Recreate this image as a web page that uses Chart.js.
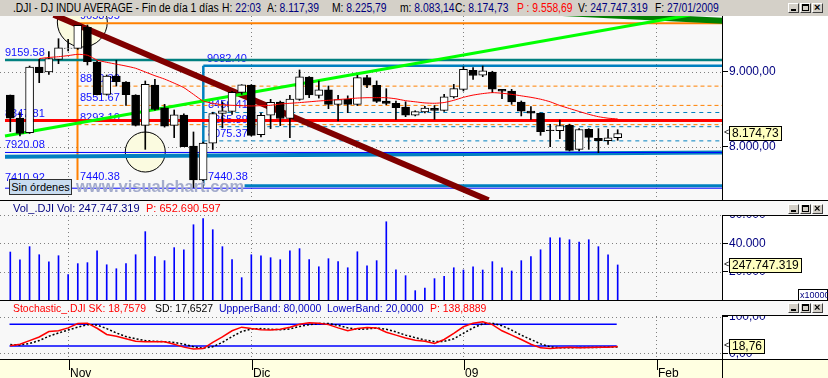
<!DOCTYPE html>
<html>
<head>
<meta charset="utf-8">
<script src="https://cdn.jsdelivr.net/npm/chart.js@4.4.1/dist/chart.umd.min.js"></script>
<style>
  body { margin:0; width:828px; height:378px; overflow:hidden; position:relative; background:#f8f8f8;
         font-family:"Liberation Sans", Arial, sans-serif; }
  canvas { position:absolute; left:0; }
  #title { position:absolute; left:0; top:0; width:828px; height:16px; background:#d4d0c8; font-size:12px; }
  .hdr { position:absolute; left:0; width:828px; height:15px; font-size:11px; z-index:2; }
  #title > span, .hdr > span { position:absolute; top:1px; white-space:pre; transform-origin:0 0; }
  #title > span { transform:scaleX(0.86); }
  .sq > span { transform:scaleX(0.95); }
  .v { color:#000080; } .r { color:#ff0000; } .b { color:#0000c0; }
  .btns { position:absolute; left:788px; width:36px; height:10px; z-index:3; }
  .btn { position:absolute; top:0; width:9px; height:8px; background:#d4d0c8; border:1px solid;
         border-color:#fff #404040 #404040 #fff; }
  .btn i { position:absolute; font-style:normal; }
  .mn { left:2px; top:5px; width:5px; height:2px; background:#000; }
  .mx { left:1px; top:0px; width:5px; height:4px; border:1px solid #000; border-top-width:2px; }
  .cl { left:1px; top:-3px; font-size:11px; font-weight:bold; }
  #sin { position:absolute; left:9px; top:179px; width:61px; height:14px; background:#c8dcf0; border:1px solid #303030;
         font-size:11px; line-height:14px; text-align:center; z-index:2; }
  #wm { position:absolute; left:76px; top:177px; font-weight:bold; font-size:16.5px; color:#a4accc; z-index:1; }
</style>
</head>
<body>
<div id="title">
  <span style="left:13px">.DJI - DJ INDU AVERAGE - Fin de día 1 días</span>
  <span style="left:222px">H: <span class="v">22:03</span></span>
  <span style="left:267px">A: <span class="v">8.117,39</span></span>
  <span style="left:332px">M: <span class="v">8.225,79</span></span>
  <span style="left:400px">m: <span class="v">8.083,14</span></span>
  <span style="left:455px">C: <span class="v">8.174,73</span></span>
  <span style="left:517px" class="r">P : 9.558,69</span>
  <span style="left:578px">V: <span class="v">247.747.319</span></span>
  <span style="left:655px">F: <span class="v">27/01/2009</span></span>
</div>
<canvas id="main" width="828" height="184" style="top:16px"></canvas>
<canvas id="vol" width="828" height="100" style="top:200px"></canvas>
<canvas id="stoch" width="828" height="78" style="top:300px"></canvas>
<div class="hdr" style="top:201px">
  <span style="left:13px" class="v">Vol_.DJI Vol: 247.747.319</span>
  <span style="left:146px" class="r">P: 652.690.597</span>
</div>
<div class="hdr sq" style="top:301px">
  <span style="left:13px" class="r">Stochastic_.DJI SK: 18,7579</span>
  <span style="left:155px">SD: 17,6527</span>
  <span style="left:219px" class="b">UppperBand: 80,0000</span>
  <span style="left:327px" class="b">LowerBand: 20,0000</span>
  <span style="left:430px" class="r">P: 138,8889</span>
</div>
<div id="wm">www.visualchart.com</div>
<div id="sin">Sin órdenes</div>
<script>
// trading days 24/10/2008 .. 27/01/2009, index 0..63
const open  = [8691,8383,8186,9067,9000,9170,9318,9318,9600,9134,8700,8946,8866,8691,8284,8826,8520,8284,8423,8007,
               7552,8046,8443,8470,8726,8826,8159,8419,8597,8376,8633,8933,8687,8759,8565,8633,8566,8924,8821,8611,
               8580,8530,8419,8463,8512,8485,8665,8767,9022,8956,9000,8767,8745,8597,8477,8445,8222,8212,8284,7962,
               8230,8110,8077,8117.39];
const high  = [8691,8454,9080,9170,9273,9447,9438,9626,9630,9148,8960,9157,8870,8695,8879,8902,8566,8490,8440,8195,
               8060,8460,8600,8740,8830,8830,8450,8633,8610,8687,9027,8940,8880,8812,8687,8680,8955,8955,8880,8776,
               8610,8600,8480,8540,8550,8700,8834,9071,9060,9080,9010,8767,8767,8611,8535,8450,8298,8356,8300,8240,
               8240,8240,8231,8225.79];
const low   = [8200,8141,8175,8857,8969,9112,9282,9304,9094,8691,8690,8812,8553,8275,7962,8486,8260,8119,7998,7449,
               7449,7960,8250,8430,8700,8141,8130,8240,8280,8119,8620,8656,8650,8508,8342,8454,8550,8790,8590,8560,
               8365,8400,8410,8450,8365,8470,8650,8745,8902,8937,8723,8642,8566,8410,8365,8150,7998,8105,7940,7940,
               7962,7917,8029,8083.14];
const close = [8379,8176,9065,8991,9181,9325,9320,9625,9139,8696,8944,8871,8694,8283,8835,8497,8274,8425,7997,7552,
               8046,8443,8479,8727,8829,8149,8419,8592,8376,8635,8934,8691,8761,8565,8630,8565,8924,8824,8605,8579,
               8520,8419,8468,8516,8484,8668,8776,9035,8953,9015,8770,8742,8599,8474,8449,8200,8212,8281,7949,8228,
               8123,8078,8116,8174.73];
// red moving average
const ma = [null,null,null,9180,9195,9205,9220,9237,9225,9160,9130,9105,9080,9050,9000,8950,8905,8850,8790,8700,
            8610,8580,8560,8553,8548,8544,8548,8553,8570,8580,8589,8600,8611,8620,8630,8640,8650,8655,8655,8655,
            8640,8615,8600,8585,8580,8590,8620,8660,8690,8710,8723,8715,8700,8680,8660,8635,8600,8550,8510,8470,
            8432,8400,8380,8370];
// volume in units of 10.000 shares
const volume = [33900,28300,37700,32000,26900,31300,17900,25700,26400,34800,24900,22100,25700,32000,48300,30600,27800,37000,35500,53200,
                57500,49700,37700,28500,15800,32000,31300,29900,28500,34800,36300,28500,23500,29200,27100,22800,34100,24200,27800,55300,
                21400,17200,6600,8500,15100,16700,22800,21200,23500,21200,27100,22800,20500,27800,30600,35500,44000,44000,42600,41000,
                42600,37700,32000,24774.7319];
const stochK = [21,25,35,45,60,62,70,82,83,69,52,47,40,33,32,32,32,25,17,12,
                13,30,45,62,72,68,65,64,66,72,80,84,83,79,70,62,68,71,70,58,
                50,42,36,33,27,38,55,73,83,87,79,62,50,38,25,15,13,15,17,15,
                16,17,17,18.7579];
const stochD = [24,23,27,35,47,56,64,72,79,78,68,56,46,40,35,33,32,30,25,18,
                14,18,30,46,60,67,68,66,65,67,74,79,82,82,77,70,66,67,70,66,
                59,50,43,37,32,33,40,55,70,81,83,76,64,50,38,26,18,15,15,16,
                16,16,17,17.6527];
const monthIdx = [6, 25, 47, 67];
const monthLbl = ['Nov', 'Dic', '09', 'Feb'];
const priceTicks = [8000, 9000];
const volTicks = [20000, 40000, 60000];
const stochTicks = [0, 100];
const stochBands = [80, 20];

// drawn level lines: value and start day index
const levelValues = [9653.95, 9159.58, 9082.40, 8810.30, 8551.67, 8293.10, 8456.41, 8265.89, 8075.37, 8347.81, 7920.08, 7440.38, 7474];
const levelFrom   = [6.97, -0.55, 20.02, 6.97, 6.97, 6.97, 20.02, 20.02, 20.02, -0.55, -0.55, -0.55, 24.3];
const levelLabels = [['9653.95', 7.23, 9653.95], ['9159.58', -0.55, 9159.58], ['9082.40', 20.4, 9082.40],
                     ['8810.30', 7.23, 8810.30], ['8551.67', 7.23, 8551.67], ['8293.10', 7.23, 8293.10],
                     ['8456.41', 20.5, 8456.41], ['8265.89', 20.5, 8265.89], ['8075.37', 20.5, 8075.37],
                     ['8347.81', -0.55, 8347.81], ['7920.08', -0.55, 7920.08], ['7410.92', -0.55, 7410.92],
                     ['7440.38', 7.23, 7440.38], ['7440.38', 20.5, 7440.38]];
// trend lines: [x0, y0, x1, y1]
const trendRed   = [4.5, 9768, 49.6, 7279];
const trendGreen = [-0.55, 8141, 70.5, 9765];
const trendDark  = [57.2, 9792, 74.5, 9684];
const trendBlue  = [-0.55, 7862, 73.82, 7919];
const vertOrange = [6.97, 9653.95, 6.97, 7550];
const vertBlue   = [20.02, 9082.40, 20.02, 7474];
const circleAt   = [[7.47, 9671], [14.0, 7926]];

const XMIN = -1.068, XMAX = 73.82;
const levelStyle = [
  {c:'#ff8000', w:2}, {c:'#008080', w:2.5}, {c:'#0080c0', w:2.5},
  {c:'#ff8000', w:1, d:[4,3]}, {c:'#ff8000', w:1, d:[4,3]}, {c:'#ff8000', w:1, d:[4,3]},
  {c:'#0080c0', w:1, d:[4,4]}, {c:'#0080c0', w:1, d:[4,4]}, {c:'#0080c0', w:1, d:[4,4]},
  {c:'#ff0000', w:3}, {c:'#0000ff', w:1}, {c:'#0000ff', w:1}, {c:'#0080c0', w:3}
];
const labelDy = [-4, -4, -4, -4, -4, -4, -4, -4, -4, -4, -4, -9.5, -8, -8];
const circleRadius = [25, 20];

Chart.defaults.font.family = '"Liberation Sans", Arial, sans-serif';
Chart.defaults.plugins.legend.display = false;
Chart.defaults.plugins.tooltip.enabled = false;

function fmtNum(v, dec) {
  const parts = Number(v).toFixed(dec).split('.');
  const intPart = parts[0].replace(/\B(?=(\d{3})+(?!\d))/g, '.');
  return parts.length > 1 ? intPart + ',' + parts[1] : intPart;
}
function seg(p) { return [{x: p[0], y: p[1]}, {x: p[2], y: p[3]}]; }
function lineDs(data, color, width, order, dash) {
  return {type: 'line', data: data, borderColor: color, borderWidth: width, borderDash: dash || [],
          pointRadius: 0, order: order, clip: 0, tension: 0};
}
function xScale() {
  return {type: 'linear', min: XMIN, max: XMAX, display: false, offset: false};
}
function yScale(min, max, ticks, dec) {
  return {
    position: 'right', min: min, max: max,
    afterBuildTicks: s => { s.ticks = ticks.map(v => ({value: v})); },
    afterFit: s => { s.width = 106; s.paddingTop = 0; s.paddingBottom = 0; },
    grid: {drawOnChartArea: false, color: '#000', tickLength: 6},
    border: {color: '#000'},
    ticks: {color: '#000080', font: {size: 12}, padding: 1, callback: v => fmtNum(v, dec)}
  };
}
function panelBg(topGap) {
  return {
    id: 'panelBg',
    beforeDraw(chart) {
      const {ctx, chartArea: a, width, height} = chart;
      ctx.save();
      ctx.fillStyle = '#f8f8f8';
      ctx.fillRect(0, 0, width, height);
      ctx.fillStyle = '#ffffff';
      ctx.fillRect(a.right, topGap, width - a.right, a.bottom - topGap);
      ctx.restore();
    }
  };
}
function dotGrid(hVals) {
  return {
    id: 'dotGrid',
    beforeDatasetsDraw(chart) {
      const {ctx, chartArea: a, scales: {x, y}} = chart;
      ctx.save();
      ctx.strokeStyle = '#808080';
      ctx.lineWidth = 1;
      ctx.setLineDash([1, 3]);
      ctx.beginPath();
      hVals.forEach(v => {
        const py = Math.round(y.getPixelForValue(v)) + 0.5;
        ctx.moveTo(a.left, py); ctx.lineTo(a.right, py);
      });
      monthIdx.forEach(i => {
        const px = Math.round(x.getPixelForValue(i)) + 0.5;
        if (px < a.right) { ctx.moveTo(px, a.top); ctx.lineTo(px, a.bottom); }
      });
      ctx.stroke();
      ctx.restore();
    }
  };
}
function valueBox(chart, v, text) {
  const {ctx, chartArea: a, scales: {y}} = chart;
  const py = Math.round(y.getPixelForValue(v));
  ctx.save();
  ctx.font = '12px "Liberation Sans", Arial, sans-serif';
  const w = Math.round(ctx.measureText(text).width) + 5;
  ctx.fillStyle = '#ffffc0';
  ctx.fillRect(a.right + 7, py - 7, w, 15);
  ctx.strokeStyle = '#000';
  ctx.lineWidth = 1;
  ctx.strokeRect(a.right + 7.5, py - 6.5, w, 14);
  ctx.fillStyle = '#000000';
  ctx.textBaseline = 'middle';
  ctx.fillText(text, a.right + 10, py + 1);
  ctx.font = '9px "Liberation Sans", Arial, sans-serif';
  ctx.fillText('<', a.right + 2, py);
  ctx.restore();
}
function panelFrame(extra) {
  return {
    id: 'panelFrame',
    afterDraw(chart) {
      const {ctx, chartArea: a, width} = chart;
      ctx.save();
      ctx.fillStyle = '#f8f8f8';
      ctx.fillRect(0, 0, width, 15);
      ctx.strokeStyle = '#000';
      ctx.lineWidth = 1;
      ctx.beginPath();
      ctx.moveTo(0, 0.5); ctx.lineTo(width, 0.5);
      ctx.moveTo(a.right, 15.5); ctx.lineTo(width, 15.5);
      ctx.stroke();
      ctx.restore();
      extra(chart);
    }
  };
}
function addButtons(top) {
  const g = document.createElement('div');
  g.className = 'btns';
  g.style.top = top + 'px';
  g.innerHTML = '<div class="btn" style="left:0"><i class="mn"></i></div>' +
                '<div class="btn" style="left:12px"><i class="mx"></i></div>' +
                '<div class="btn" style="left:24px"><i class="cl">×</i></div>';
  document.body.appendChild(g);
}
addButtons(3);
addButtons(204);
addButtons(303);

// ---------- price panel ----------
const bodies = close.map((c, i) => ({x: i, y: [open[i], c]}));
const wicks = close.map((c, i) => ({x: i, y: [low[i], high[i]]}));
const bodyFill = close.map((c, i) => c >= open[i] ? '#ffffff' : '#000000');

const mainDeco = {
  id: 'mainDeco',
  beforeDatasetsDraw(chart) {
    const {ctx, chartArea: a, scales: {x, y}} = chart;
    ctx.save();
    ctx.beginPath();
    ctx.rect(a.left, a.top, a.right - a.left, a.bottom - a.top);
    ctx.clip();
    circleAt.forEach((c, k) => {
      ctx.beginPath();
      ctx.arc(x.getPixelForValue(c[0]), y.getPixelForValue(c[1]), circleRadius[k], 0, Math.PI * 2);
      ctx.fillStyle = '#fbfbe0';
      ctx.fill();
      ctx.strokeStyle = '#000';
      ctx.lineWidth = 1;
      ctx.stroke();
    });
    ctx.font = '11px "Liberation Sans", Arial, sans-serif';
    ctx.fillStyle = '#1010ff';
    levelLabels.forEach((l, k) => {
      ctx.fillText(l[0], Math.round(x.getPixelForValue(l[1])), Math.round(y.getPixelForValue(l[2]) + labelDy[k]));
    });
    ctx.restore();
  },
  afterDraw(chart) {
    const last = close[close.length - 1];
    valueBox(chart, last, fmtNum(last, 2));
  }
};

const levelDs = levelValues.map((v, k) =>
  lineDs([{x: levelFrom[k], y: v}, {x: XMAX + 1, y: v}], levelStyle[k].c, levelStyle[k].w, 10, levelStyle[k].d));

new Chart(document.getElementById('main'), {
  type: 'bar',
  data: {
    datasets: [
      ...levelDs,
      lineDs(seg(trendBlue), '#0080c0', 4, 10),
      lineDs(seg(vertOrange), '#ff8000', 2, 10),
      lineDs(seg(vertBlue), '#0080c0', 2.5, 10),
      lineDs(seg(trendGreen), '#00ff00', 3, 9),
      lineDs(seg(trendDark), '#008000', 6, 9),
      lineDs(seg(trendRed), '#800000', 6, 9),
      {type: 'bar', data: wicks, backgroundColor: '#000', barThickness: 1, grouped: false, order: 5},
      {type: 'bar', data: bodies, backgroundColor: bodyFill, borderColor: '#000', borderWidth: 1,
       borderSkipped: false, barThickness: 8, grouped: false, order: 4},
      {type: 'line', data: ma.map((v, i) => ({x: i, y: v})), borderColor: '#ff0000', borderWidth: 1,
       pointRadius: 0, tension: 0.2, order: 1}
    ]
  },
  options: {
    responsive: false, animation: false, events: [], devicePixelRatio: 1,
    layout: {padding: 0},
    scales: {x: xScale(), y: yScale(7282, 9751.5, priceTicks, 2)}
  },
  plugins: [panelBg(0), dotGrid(priceTicks), mainDeco]
});

// ---------- volume panel ----------
new Chart(document.getElementById('vol'), {
  type: 'bar',
  data: {
    datasets: [{data: volume.map((v, i) => ({x: i, y: v})), backgroundColor: '#0000ff',
                barThickness: 1, grouped: false}]
  },
  options: {
    responsive: false, animation: false, events: [], devicePixelRatio: 1,
    layout: {padding: 0},
    scales: {x: xScale(), y: yScale(0, 70670, volTicks, 0)}
  },
  plugins: [panelBg(15), dotGrid(volTicks), panelFrame(chart => {
    const last = volume[volume.length - 1];
    valueBox(chart, last, fmtNum(last * 10000, 0));
    const {ctx} = chart;
    ctx.save();
    ctx.fillStyle = '#fff';
    ctx.fillRect(798, 89, 29, 11);
    ctx.strokeStyle = '#000';
    ctx.strokeRect(798.5, 89.5, 29, 11);
    ctx.fillStyle = '#000080';
    ctx.font = '9px "Liberation Sans", Arial, sans-serif';
    ctx.textBaseline = 'middle';
    ctx.fillText('x10000', 800, 95.5);
    ctx.restore();
  })]
});

// ---------- stochastic panel ----------
new Chart(document.getElementById('stoch'), {
  type: 'line',
  data: {
    datasets: [
      lineDs([{x: -0.08, y: stochBands[0]}, {x: 62.9, y: stochBands[0]}], '#0000ff', 1.5, 5),
      lineDs([{x: -0.08, y: stochBands[1]}, {x: 62.9, y: stochBands[1]}], '#0000ff', 1.5, 5),
      {data: stochD.map((v, i) => ({x: i, y: v})), borderColor: '#000', borderWidth: 1.5, borderDash: [2, 2],
       pointRadius: 0, order: 2},
      {data: stochK.map((v, i) => ({x: i, y: v})), borderColor: '#ff0000', borderWidth: 1.5,
       pointRadius: 0, order: 1}
    ]
  },
  options: {
    responsive: false, animation: false, events: [], devicePixelRatio: 1,
    layout: {padding: {bottom: 19}},
    scales: {x: xScale(), y: yScale(-15.7, 146.8, stochTicks, 2)}
  },
  plugins: [panelBg(15), dotGrid(stochTicks), panelFrame(chart => {
    const last = stochK[stochK.length - 1];
    valueBox(chart, last, fmtNum(last, 2));
    const {ctx, chartArea: a, scales: {x}, width, height} = chart;
    ctx.save();
    ctx.fillStyle = '#ffffe1';
    ctx.fillRect(0, a.bottom, width, height - a.bottom);
    ctx.strokeStyle = '#000';
    ctx.lineWidth = 1;
    ctx.beginPath();
    ctx.moveTo(0, a.bottom + 0.5); ctx.lineTo(width, a.bottom + 0.5);
    ctx.moveTo(a.right + 0.5, a.bottom); ctx.lineTo(a.right + 0.5, height);
    monthIdx.forEach(i => {
      const px = Math.round(x.getPixelForValue(i)) + 1.5;
      ctx.moveTo(px, a.bottom); ctx.lineTo(px, a.bottom + 11);
    });
    ctx.stroke();
    ctx.fillStyle = '#000';
    ctx.font = '12px "Liberation Sans", Arial, sans-serif';
    monthIdx.forEach((i, k) => {
      ctx.fillText(monthLbl[k], Math.round(x.getPixelForValue(i)) + 2, height - 1);
    });
    ctx.restore();
  })]
});
</script>
</body>
</html>
